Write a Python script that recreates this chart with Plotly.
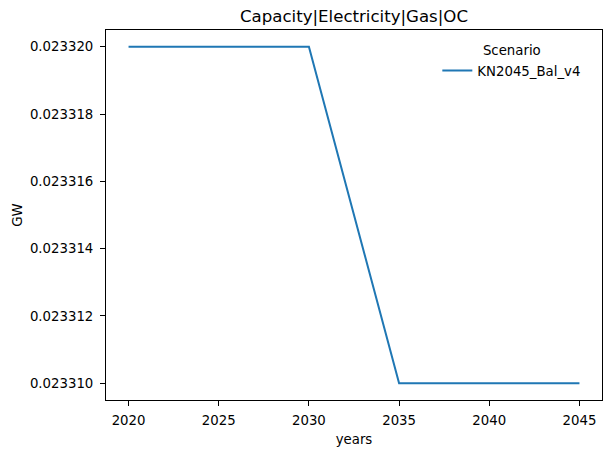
import plotly.graph_objects as go

years = [2020, 2025, 2030, 2035, 2040, 2045]
values = [0.02332, 0.02332, 0.02332, 0.02331, 0.02331, 0.02331]
scenario = "KN2045_Bal_v4"
y_ticks = [0.02331, 0.023312, 0.023314, 0.023316, 0.023318, 0.02332]
x_ticks = [2020, 2025, 2030, 2035, 2040, 2045]

font = "DejaVu Sans"
fs = 13.3
fig = go.Figure()
fig.add_trace(go.Scatter(x=years, y=values, mode="lines", name=scenario,
                         line=dict(color="#1f77b4", width=2)))

ymin, ymax = min(values), max(values)
pad_y = (ymax - ymin) * 0.05
xmin, xmax = min(years), max(years)
pad_x = (xmax - xmin) * 0.05

axis_common = dict(showgrid=False, zeroline=False, showline=True, linecolor="black",
                   linewidth=1, mirror=True, ticks="outside", ticklen=5,
                   tickcolor="black", tickwidth=1, automargin=False,
                   tickfont=dict(family=font, size=fs, color="black"))

fig.update_layout(
    width=611, height=453,
    paper_bgcolor="white", plot_bgcolor="white",
    margin=dict(l=106, r=9, t=30, b=53),
    title=dict(text="Capacity|Electricity|Gas|OC", x=0.5, xref="paper", xanchor="center",
               y=1 - 16 / 453, yref="container", yanchor="middle",
               font=dict(family=font, size=16.6, color="black")),
    xaxis=dict(range=[xmin - pad_x, xmax + pad_x], tickvals=x_ticks, ticklabelstandoff=3,
               title=dict(text="years", font=dict(family=font, size=fs, color="black"), standoff=7),
               **axis_common),
    yaxis=dict(range=[ymin - pad_y, ymax + pad_y], tickvals=y_ticks, tickformat=".6f",
               ticklabelstandoff=4,
               title=dict(text="GW", font=dict(family=font, size=fs, color="black"), standoff=4),
               **axis_common),
    legend=dict(x=0.668, y=0.978, xanchor="left", yanchor="top",
                bgcolor="rgba(0,0,0,0)", borderwidth=0,
                font=dict(family=font, size=fs, color="black"),
                title=dict(text="Scenario", side="top center",
                           font=dict(family=font, size=fs, color="black"))),
    showlegend=True,
)

fig.write_html("out.html", config={"displayModeBar": False},
               post_script="document.body.style.margin='0';document.body.style.padding='0';")
